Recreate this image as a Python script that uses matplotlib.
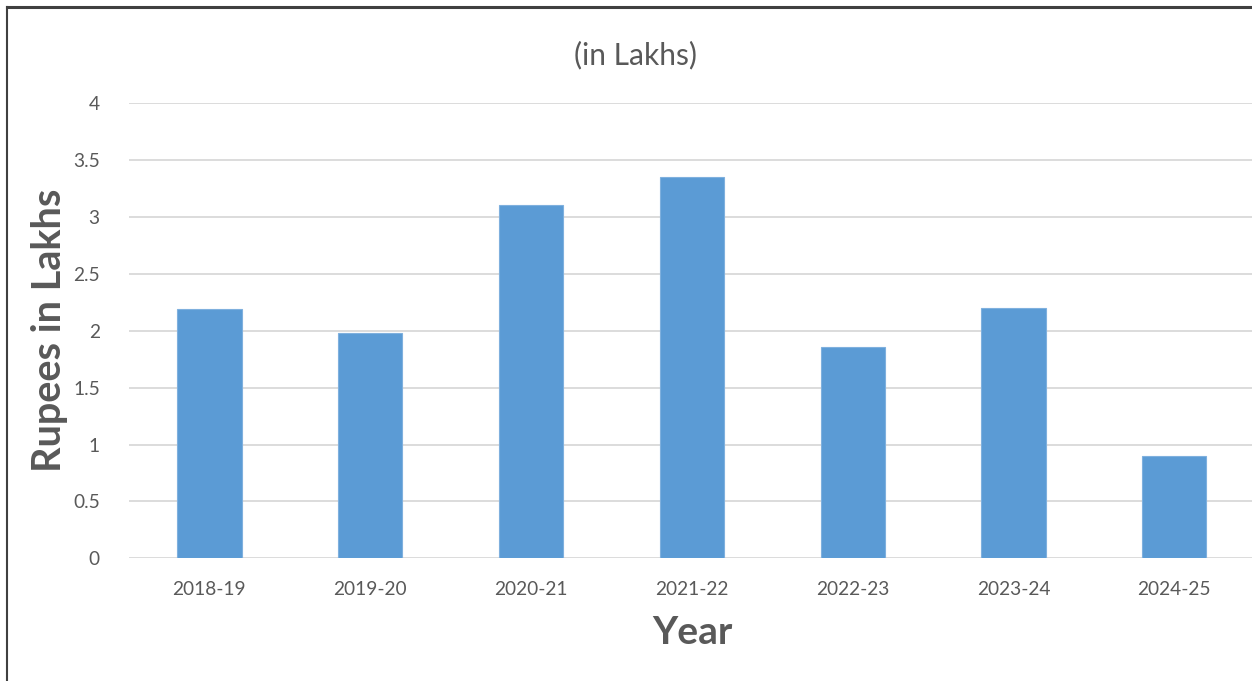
import matplotlib
matplotlib.use("Agg")
import matplotlib.pyplot as plt
from matplotlib.lines import Line2D

years = ["2018-19", "2019-20", "2020-21", "2021-22", "2022-23", "2023-24", "2024-25"]
values = [2.19, 1.98, 3.11, 3.35, 1.86, 2.20, 0.90]
yticks = [0, 0.5, 1, 1.5, 2, 2.5, 3, 3.5, 4]
ytick_labels = ["0", "0.5", "1", "1.5", "2", "2.5", "3", "3.5", "4"]

W, H = 1252, 681
fig = plt.figure(figsize=(W / 100, H / 100), dpi=100)
plt.rcParams['font.family'] = ['Lato', 'DejaVu Sans']

left, right = 129, 1252
bottom, top = 558.3, 103.3
ax = fig.add_axes([left / W, (H - bottom) / H, (right - left) / W, (bottom - top) / H])

x = list(range(len(years)))
ax.bar(x, values, width=0.40, color="#5B9BD5", edgecolor="#7FB0DE", linewidth=0.8, zorder=3)
ax.set_xlim(-0.5, (right - 209.5) / 160.8)
ax.set_ylim(0, 4)
ax.set_yticks(yticks)
ax.set_yticklabels(ytick_labels)
ax.set_xticks(x)
ax.set_xticklabels(years)
ax.grid(axis="y", color="#D9D9D9", linewidth=1.3, zorder=0)
for s in ax.spines.values():
    s.set_visible(False)
ax.tick_params(axis="both", length=0, labelsize=13.8, colors="#595959")
ax.tick_params(axis="y", pad=21)
ax.tick_params(axis="x", pad=16)

fig.text(692 / W, 1 - 633 / H, "Year", ha="center", va="center",
         fontsize=28, fontweight="bold", color="#595959")
fig.text(50 / W, 1 - 330 / H, "Rupees in Lakhs", ha="center", va="center", rotation=90,
         fontsize=28.5, fontweight="bold", color="#595959")
fig.text(635 / W, 1 - 55 / H, "(in Lakhs)", ha="center", va="center", fontsize=21.5, color="#595959")

fig.add_artist(Line2D([7 / W, 7 / W], [0, 1 - 7 / H], transform=fig.transFigure, color="#404040", linewidth=1.5))
fig.add_artist(Line2D([7 / W, 1], [1 - 7 / H, 1 - 7 / H], transform=fig.transFigure, color="#404040", linewidth=2.2))

fig.savefig("out.png", dpi=100)
